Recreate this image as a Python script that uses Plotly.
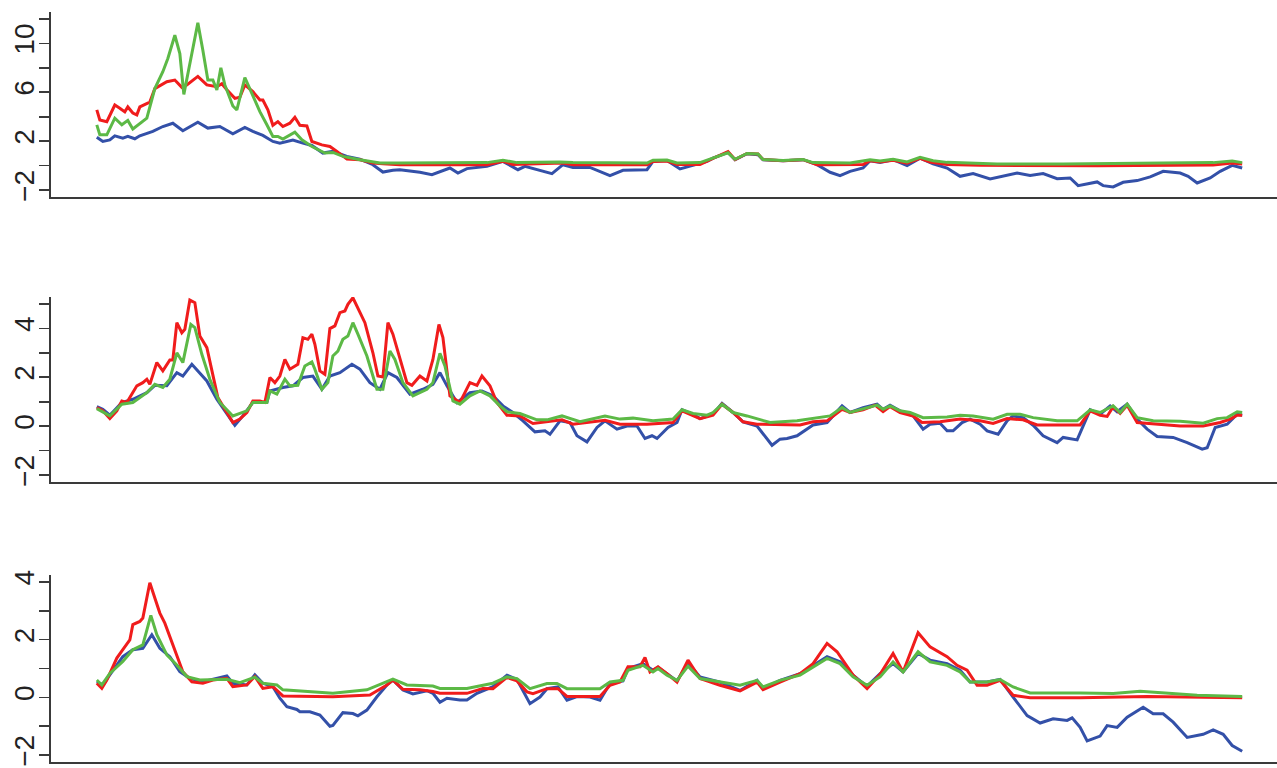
import plotly.graph_objects as go

# ---- data: (sample index, value) pairs ----
P1_BLUE = [(0,2.33),(6,1.98),(13,2.1),(18,2.44),(26,2.25),(31,2.39),(38,2.2),(43,2.44),(56,2.8),(66,3.2),(76,3.47),(86,2.85),(101,3.55),(111,3.07),(123,3.2),(136,2.6),(148,3.12),(156,2.8),(166,2.47),(176,1.98),(183,1.84),(196,2.1),(206,1.84),(215,1.65),(226,1.03),(236,1.17),(250,0.76),(263,0.54),(276,0.08),(286,-0.52),(296,-0.38),(303,-0.33),(323,-0.54),(335,-0.73),(353,-0.19),(361,-0.6),(370,-0.24),(390,-0.05),(406,0.35),(421,-0.33),(428,-0.05),(455,-0.65),(466,0.08),(476,-0.14),(493,-0.14),(513,-0.81),(526,-0.38),(550,-0.33),(556,0.35),(570,0.43),(583,-0.27),(596,0.0),(610,0.35),(616,0.62),(631,1.08),(638,0.49),(650,0.98),(661,0.9),(666,0.49),(686,0.41),(706,0.49),(720,0.08),(733,-0.54),(743,-0.81),(753,-0.46),(766,-0.19),(773,0.41),(783,0.27),(796,0.49),(810,0.0),(823,0.62),(836,0.16),(850,-0.19),(863,-0.87),(876,-0.65),(893,-1.09),(906,-0.87),(920,-0.6),(933,-0.81),(946,-0.65),(960,-1.06),(973,-1.0),(981,-1.63),(1000,-1.33),(1006,-1.63),(1016,-1.74),(1026,-1.36),(1040,-1.22),(1053,-0.92),(1066,-0.46),(1083,-0.6),(1091,-0.87),(1100,-1.41),(1113,-1.0),(1123,-0.46),(1135,0.03),(1145,-0.19)]
P1_RED = [(0,4.56),(3,3.74),(10,3.6),(18,4.96),(23,4.7),(28,4.4),(31,4.8),(36,4.3),(40,4.15),(43,4.8),(53,5.2),(58,6.3),(70,6.86),(78,7.0),(85,6.4),(90,6.6),(101,7.3),(110,6.6),(120,6.45),(125,6.7),(130,6.2),(138,5.5),(143,5.6),(148,6.6),(156,6.05),(163,5.37),(166,5.37),(171,4.56),(176,3.3),(181,3.6),(186,3.2),(193,3.47),(198,3.96),(203,3.3),(210,3.25),(215,1.98),(225,1.7),(233,1.57),(240,1.17),(250,0.54),(263,0.49),(276,0.22),(286,0.16),(303,0.08),(390,0.08),(406,0.35),(416,0.1),(466,0.22),(476,0.08),(550,0.08),(556,0.35),(570,0.38),(580,0.1),(603,0.1),(616,0.6),(631,1.15),(638,0.5),(650,1.0),(661,0.95),(666,0.5),(686,0.41),(706,0.49),(720,0.08),(766,0.1),(773,0.41),(783,0.3),(796,0.45),(810,0.2),(823,0.6),(833,0.3),(850,0.1),(883,0.03),(1000,0.0),(1116,0.05),(1135,0.22),(1145,0.14)]
P1_GREEN = [(0,3.34),(3,2.52),(10,2.52),(18,3.88),(25,3.34),(31,3.7),(36,3.0),(43,3.47),(50,3.88),(58,6.3),(66,7.68),(71,8.76),(78,10.66),(83,9.17),(87,5.83),(95,9.17),(101,11.67),(106,9.44),(111,7.0),(116,7.0),(120,6.19),(124,8.0),(128,6.6),(136,4.88),(140,4.56),(148,7.2),(156,5.64),(163,4.42),(170,3.34),(176,2.39),(181,2.39),(186,2.17),(198,2.74),(205,2.12),(215,1.57),(228,1.03),(236,1.08),(246,0.76),(263,0.49),(283,0.22),(303,0.22),(390,0.25),(406,0.45),(420,0.25),(463,0.3),(476,0.25),(550,0.22),(556,0.45),(570,0.46),(580,0.22),(603,0.25),(616,0.62),(631,1.05),(638,0.52),(650,1.0),(661,0.95),(666,0.5),(686,0.43),(706,0.5),(716,0.25),(753,0.22),(773,0.49),(783,0.38),(796,0.52),(810,0.3),(823,0.68),(836,0.4),(850,0.27),(900,0.14),(966,0.13),(1066,0.22),(1116,0.25),(1135,0.38),(1145,0.25)]

P2_BLUE = [(0,0.8),(6,0.69),(13,0.45),(25,0.97),(36,1.1),(50,1.37),(58,1.67),(70,1.65),(80,2.19),(86,2.05),(95,2.53),(101,2.26),(110,1.85),(120,1.1),(130,0.49),(138,0.04),(146,0.42),(156,0.97),(170,0.97),(173,1.44),(186,1.58),(196,1.65),(206,1.99),(216,2.05),(225,1.51),(233,2.05),(243,2.19),(255,2.53),(263,2.33),(273,1.78),(283,1.51),(291,2.19),(300,1.99),(313,1.31),(326,1.51),(336,1.71),(343,2.19),(350,1.65),(360,0.97),(373,1.37),(385,1.44),(396,1.24),(406,0.83),(416,0.56),(426,0.22),(438,-0.23),(448,-0.19),(453,-0.33),(463,0.22),(473,0.15),(480,-0.39),(490,-0.64),(500,-0.05),(508,0.22),(520,-0.12),(530,0.01),(540,0.01),(548,-0.5),(555,-0.39),(560,-0.5),(571,-0.05),(580,0.15),(585,0.67),(596,0.49),(603,0.31),(616,0.49),(625,0.93),(636,0.56),(646,0.18),(660,0.01),(675,-0.78),(683,-0.53),(690,-0.5),(700,-0.39),(716,0.05),(730,0.15),(745,0.83),(753,0.56),(766,0.76),(780,0.9),(786,0.69),(793,0.86),(803,0.63),(816,0.42),(826,-0.12),(833,0.08),(843,0.12),(850,-0.19),(856,-0.19),(865,0.15),(873,0.29),(883,0.08),(890,-0.19),(901,-0.33),(910,0.22),(916,0.42),(926,0.35),(936,0.04),(946,-0.39),(960,-0.67),(966,-0.46),(980,-0.56),(993,0.67),(1003,0.49),(1013,0.83),(1020,0.59),(1030,0.9),(1040,0.29),(1050,-0.12),(1060,-0.42),(1076,-0.46),(1090,-0.67),(1105,-0.94),(1110,-0.88),(1118,-0.05),(1130,0.08),(1140,0.49),(1145,0.45)]
P2_RED = [(0,0.76),(6,0.63),(13,0.31),(20,0.63),(25,1.03),(30,0.97),(40,1.65),(46,1.78),(50,1.92),(53,1.71),(60,2.6),(66,2.26),(73,2.71),(76,2.71),(80,4.23),(85,3.82),(88,3.96),(93,5.16),(98,5.05),(103,3.69),(110,3.21),(116,2.05),(121,1.17),(130,0.56),(136,0.15),(143,0.29),(150,0.56),(156,1.03),(163,1.03),(168,0.97),(173,1.99),(178,1.78),(183,2.05),(188,2.73),(193,2.33),(201,2.53),(206,3.62),(211,3.55),(215,3.76),(218,3.35),(223,2.26),(228,2.12),(233,3.99),(238,4.1),(243,4.64),(248,4.71),(251,4.98),(256,5.25),(261,4.84),(268,4.23),(276,3.0),(281,2.05),(286,2.01),(291,4.23),(296,3.76),(303,2.8),(310,1.78),(315,1.67),(323,2.05),(330,1.85),(336,2.73),(342,4.16),(346,3.62),(353,1.24),(363,0.97),(373,1.78),(380,1.67),(385,2.05),(393,1.65),(400,0.97),(410,0.45),(423,0.42),(436,0.11),(465,0.26),(476,0.08),(508,0.24),(523,0.08),(550,0.08),(576,0.15),(585,0.63),(596,0.42),(603,0.31),(616,0.45),(625,0.9),(636,0.56),(646,0.18),(660,0.08),(683,0.05),(703,0.05),(716,0.18),(730,0.22),(745,0.69),(753,0.56),(766,0.67),(778,0.86),(786,0.6),(793,0.8),(803,0.56),(816,0.42),(825,0.15),(843,0.18),(863,0.29),(883,0.22),(896,0.11),(910,0.31),(926,0.26),(940,0.05),(983,0.05),(993,0.63),(1003,0.45),(1010,0.4),(1016,0.8),(1023,0.53),(1030,0.86),(1040,0.15),(1083,0.01),(1106,0.01),(1123,0.15),(1133,0.29),(1140,0.45),(1145,0.45)]
P2_GREEN = [(0,0.72),(13,0.42),(25,0.9),(36,0.97),(50,1.37),(58,1.71),(66,1.58),(73,1.92),(80,3.0),(86,2.6),(94,4.16),(98,4.03),(105,2.94),(113,1.92),(123,0.97),(136,0.42),(150,0.63),(156,0.97),(170,0.97),(173,1.44),(180,1.31),(188,1.92),(193,1.65),(201,1.67),(208,2.46),(215,2.63),(218,2.33),(225,1.51),(231,1.78),(236,2.87),(241,3.07),(246,3.55),(251,3.69),(256,4.23),(261,3.76),(270,2.87),(280,1.51),(286,1.51),(293,3.07),(298,2.73),(306,1.78),(316,1.24),(330,1.51),(336,1.78),(343,2.98),(348,2.46),(356,1.03),(363,0.9),(373,1.24),(383,1.44),(393,1.24),(403,0.83),(410,0.59),(423,0.52),(440,0.26),(450,0.26),(465,0.42),(483,0.18),(508,0.42),(523,0.29),(536,0.33),(556,0.22),(576,0.29),(585,0.67),(596,0.52),(610,0.45),(616,0.56),(625,0.9),(636,0.56),(650,0.42),(673,0.15),(700,0.22),(733,0.42),(745,0.76),(753,0.56),(766,0.69),(780,0.86),(786,0.69),(793,0.83),(803,0.63),(813,0.56),(826,0.35),(850,0.38),(863,0.45),(876,0.42),(896,0.29),(910,0.49),(923,0.49),(936,0.35),(960,0.22),(980,0.22),(993,0.67),(1003,0.56),(1016,0.83),(1023,0.56),(1030,0.9),(1040,0.35),(1056,0.22),(1083,0.2),(1106,0.12),(1120,0.31),(1130,0.35),(1140,0.59),(1145,0.56)]

P3_BLUE = [(0,0.54),(6,0.43),(13,0.78),(26,1.41),(36,1.65),(46,1.7),(55,2.17),(63,1.7),(73,1.41),(83,0.89),(93,0.66),(106,0.54),(130,0.74),(136,0.49),(150,0.43),(158,0.78),(166,0.49),(176,0.37),(183,-0.03),(190,-0.32),(200,-0.42),(203,-0.5),(213,-0.5),(223,-0.61),(233,-1.0),(236,-0.97),(246,-0.53),(256,-0.56),(261,-0.64),(270,-0.44),(280,0.02),(290,0.43),(296,0.6),(306,0.26),(316,0.12),(330,0.23),(336,0.14),(343,-0.17),(350,-0.03),(363,-0.09),(370,-0.09),(380,0.14),(396,0.37),(410,0.77),(420,0.62),(433,-0.22),(443,0.01),(450,0.3),(461,0.36),(470,-0.1),(480,0.03),(493,0.01),(503,-0.1),(513,0.48),(526,0.57),(531,1.0),(546,1.17),(556,0.94),(561,1.04),(570,0.82),(580,0.57),(591,1.2),(603,0.71),(623,0.53),(643,0.24),(660,0.59),(666,0.3),(683,0.59),(703,0.82),(730,1.41),(743,1.23),(756,0.77),(770,0.38),(783,0.82),(796,1.17),(806,0.88),(821,1.52),(833,1.29),(850,1.17),(863,0.94),(873,0.53),(890,0.53),(903,0.62),(916,0.01),(930,-0.63),(943,-0.89),(956,-0.74),(970,-0.8),(975,-0.71),(983,-1.04),(990,-1.51),(1003,-1.34),(1010,-0.98),(1020,-1.04),(1030,-0.69),(1046,-0.34),(1056,-0.57),(1066,-0.57),(1076,-0.86),(1090,-1.39),(1106,-1.28),(1116,-1.13),(1126,-1.28),(1135,-1.67),(1145,-1.87)]
P3_RED = [(0,0.49),(5,0.31),(10,0.6),(20,1.36),(26,1.65),(33,1.99),(36,2.52),(43,2.63),(46,2.75),(53,3.97),(58,3.44),(63,2.92),(68,2.57),(73,2.11),(80,1.41),(86,0.89),(95,0.54),(106,0.49),(116,0.6),(130,0.66),(136,0.37),(150,0.43),(158,0.72),(166,0.31),(176,0.37),(186,0.05),(236,0.02),(273,0.08),(290,0.43),(296,0.6),(306,0.28),(323,0.26),(336,0.2),(343,0.14),(370,0.14),(386,0.31),(396,0.3),(410,0.69),(420,0.57),(430,0.19),(436,0.13),(450,0.3),(461,0.3),(470,0.03),(503,0.03),(513,0.42),(523,0.53),(531,1.06),(543,1.06),(548,1.38),(553,0.88),(561,1.06),(570,0.82),(580,0.53),(591,1.29),(603,0.65),(623,0.42),(643,0.22),(660,0.53),(666,0.27),(683,0.53),(703,0.82),(716,1.17),(730,1.87),(740,1.58),(756,0.77),(770,0.3),(783,0.8),(796,1.52),(806,0.88),(821,2.24),(833,1.75),(850,1.41),(860,1.11),(870,0.94),(880,0.42),(890,0.42),(903,0.59),(916,0.07),(933,-0.01),(983,-0.01),(1050,0.03),(1145,-0.01)]
P3_GREEN = [(0,0.6),(5,0.43),(13,0.83),(26,1.24),(36,1.65),(46,1.82),(54,2.84),(60,2.17),(70,1.47),(80,1.12),(90,0.72),(103,0.6),(130,0.63),(143,0.51),(158,0.7),(166,0.49),(180,0.43),(186,0.26),(236,0.14),(270,0.26),(296,0.63),(310,0.43),(336,0.39),(343,0.31),(370,0.31),(396,0.49),(410,0.71),(420,0.65),(433,0.3),(450,0.48),(460,0.48),(470,0.3),(503,0.3),(513,0.53),(526,0.59),(531,0.94),(546,1.11),(556,0.88),(561,1.0),(570,0.77),(580,0.59),(591,1.08),(603,0.65),(623,0.53),(643,0.42),(660,0.59),(666,0.36),(683,0.59),(703,0.77),(730,1.35),(743,1.17),(756,0.71),(770,0.42),(783,0.71),(796,1.23),(806,0.88),(821,1.58),(833,1.23),(850,1.11),(863,0.88),(873,0.53),(890,0.53),(903,0.62),(916,0.36),(933,0.15),(983,0.15),(1016,0.13),(1043,0.21),(1066,0.15),(1100,0.07),(1145,0.03)]

Y_LIMITS = [(-2, 12), (-2, 5), (-2, 4)]
Y_MAJOR = [4, 2, 2]
Y_MINOR = [2, 1, 1]
X_LIMITS = (0, 1145)

BLUE, RED, GREEN = "#3350A8", "#F01C1C", "#5CB946"
AXIS_COLOR = "#3a3a3a"

panels = [
    (P1_BLUE, P1_RED, P1_GREEN),
    (P2_BLUE, P2_RED, P2_GREEN),
    (P3_BLUE, P3_RED, P3_GREEN),
]

W, H = 1277, 768
LEFT = 51
# pixel placement of each panel's plotting region (top, bottom)
panel_px = [(12, 197), (297, 482), (575, 762)]

fig = go.Figure()
for i, series in enumerate(panels):
    ax = "" if i == 0 else str(i + 1)
    for data, col in zip(series, (BLUE, RED, GREEN)):
        fig.add_trace(go.Scatter(
            x=[p[0] for p in data], y=[p[1] for p in data],
            mode="lines", line=dict(color=col, width=3),
            xaxis="x" + ax, yaxis="y" + ax, showlegend=False, hoverinfo="skip"))

# R-style 4% padding; the right end of the region falls off the page
xpad = 0.04 * (X_LIMITS[1] - X_LIMITS[0])
full = X_LIMITS[1] - X_LIMITS[0] + 2 * xpad
px_per_unit = (1288 - LEFT) / full
x_range = [X_LIMITS[0] - xpad, X_LIMITS[0] - xpad + (W - LEFT) / px_per_unit]

layout = dict(width=W, height=H, margin=dict(l=LEFT, r=0, t=0, b=0, autoexpand=False),
              paper_bgcolor="white", plot_bgcolor="white",
              font=dict(family="Liberation Sans, Arial, Helvetica, sans-serif", color="#222"))
for i in range(3):
    ax = "" if i == 0 else str(i + 1)
    top, bot = panel_px[i]
    lo, hi = Y_LIMITS[i]
    pad = 0.04 * (hi - lo)
    layout["xaxis" + ax] = dict(
        domain=[0, 1], range=x_range, anchor="y" + ax, automargin=False,
        showline=True, linecolor=AXIS_COLOR, linewidth=2,
        showticklabels=False, ticks="", showgrid=False, zeroline=False)
    layout["yaxis" + ax] = dict(
        domain=[(H - bot) / H, (H - top) / H], range=[lo - pad, hi + pad],
        anchor="x" + ax, automargin=False, showline=True, linecolor=AXIS_COLOR, linewidth=2,
        ticks="outside", ticklen=10, tickwidth=1.6, tickcolor=AXIS_COLOR,
        tick0=lo, dtick=Y_MAJOR[i], tickangle=-90,
        tickfont=dict(size=28, color="#222"), ticklabelstandoff=-6,
        minor=dict(ticks="outside", dtick=Y_MINOR[i], tick0=lo, ticklen=10,
                   tickwidth=1.6, tickcolor=AXIS_COLOR),
        showgrid=False, zeroline=False)
fig.update_layout(**layout)
fig.write_html("out.html", config={"displayModeBar": False, "staticPlot": True},
               post_script="document.body.style.margin='0';document.body.style.overflow='hidden';")
